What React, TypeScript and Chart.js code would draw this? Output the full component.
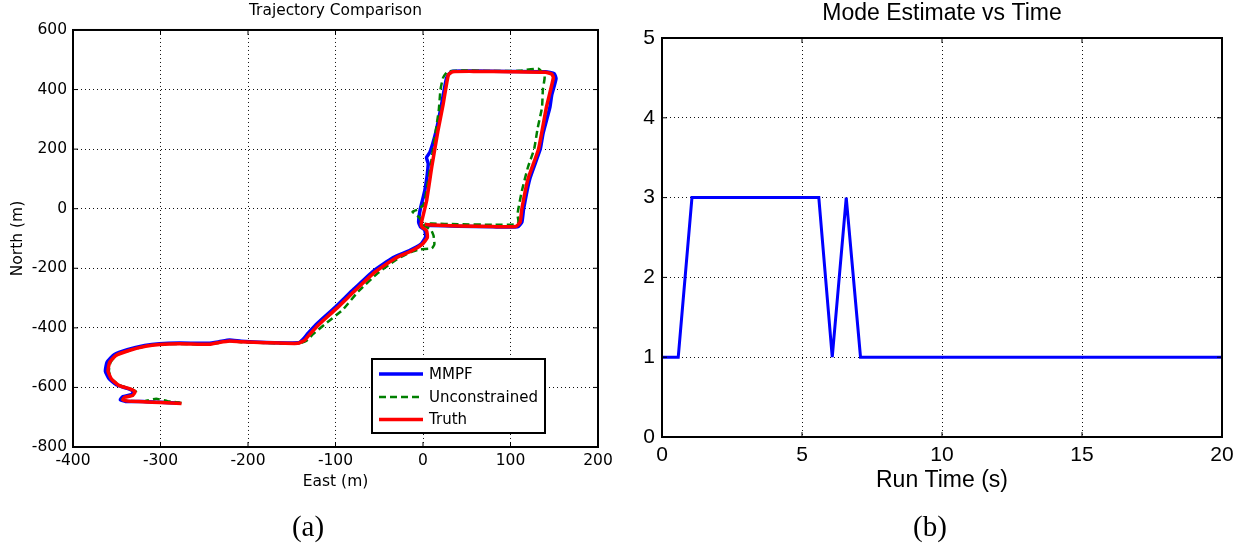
import React, { useEffect, useRef } from "react";
import { Chart, registerables } from "chart.js";

Chart.register(...registerables);
Chart.defaults.color = "#000";

// ---------- Data: trajectory comparison (East / North in metres) ----------
const trajEastTicks = [-400, -300, -200, -100, 0, 100, 200];
const trajNorthTicks = [-800, -600, -400, -200, 0, 200, 400, 600];

const truthEast = [-276, -300, -320, -337, -343, -341, -332, -329, -335, -347, -356, -360, -358, -351, -336, -317, -301, -278, -244, -233, -221, -208, -179, -143, -135, -129, -118, -98, -77, -55, -32, -14, -1, 5, 4, -1, -2, 4, 10, 17, 23, 29, 34, 60, 100, 140, 147, 149, 141, 132, 120, 113, 111, 106, 80, 40, 10, 2];
const truthNorth = [-654, -651, -648, -646, -642, -633, -627, -615, -605, -594, -572, -545, -515, -493, -476, -462, -456, -453, -455, -449, -444, -447, -450, -452, -441, -420, -386, -333, -273, -213, -167, -143, -120, -97, -73, -62, -50, 25, 140, 260, 350, 450, 460, 461, 460, 458, 452, 440, 340, 200, 100, 0, -45, -60, -60, -58, -55, -53];

const mmpfEast = [-278, -300, -320, -340, -346, -343, -333, -331, -338, -350, -359, -363, -361, -353, -338, -318, -301, -278, -245, -233, -221, -208, -179, -142, -137, -131, -120, -100, -79, -57, -34, -16, -2, 3, 2, -3, -5, -3, 2, 6, 4, 8, 15, 21, 27, 33, 60, 100, 140, 150, 152, 147, 145, 137, 134, 122, 115, 113, 108, 80, 40, 10, 2];
const mmpfNorth = [-652, -650, -647, -647, -641, -631, -624, -613, -603, -592, -570, -545, -515, -490, -473, -459, -453, -451, -452, -447, -441, -445, -449, -450, -438, -417, -383, -330, -270, -210, -164, -141, -118, -95, -72, -60, -45, 0, 60, 150, 172, 190, 260, 346, 440, 461, 462, 461, 460, 453, 436, 380, 340, 250, 200, 100, 0, -45, -61, -61, -59, -56, -54];

const uncEast = [-276, -292, -305, -318, -338, -344, -340, -330, -328, -335, -347, -356, -359, -357, -350, -335, -316, -300, -277, -244, -233, -221, -208, -179, -143, -133, -126, -113, -92, -74, -52, -30, -14, -3, 10, 13, 12, 9, 3, 0, -4, -12, -6, 1, 5, 9, 14, 18, 20, 23, 28, 45, 80, 110, 132, 139, 137, 136, 131, 127, 120, 113, 109, 108, 109, 104, 80, 40, 10, 2];
const uncNorth = [-652, -646, -638, -646, -645, -640, -631, -626, -614, -604, -593, -571, -545, -515, -492, -475, -461, -455, -454, -456, -450, -445, -448, -451, -453, -443, -422, -390, -340, -278, -217, -170, -146, -136, -133, -120, -90, -70, -60, -52, -30, -10, -3, 15, 80, 150, 250, 330, 400, 440, 460, 464, 462, 463, 470, 445, 400, 340, 270, 200, 140, 60, 0, -20, -45, -53, -54, -52, -50, -50];

// ---------- Data: mode estimate vs time ----------
const modeTimeTicks = [0, 5, 10, 15, 20];
const modeValueTicks = [0, 1, 2, 3, 4, 5];
const modeTime = [0, 0.58, 1.07, 5.6, 6.08, 6.58, 7.09, 20];
const modeValue = [1, 1, 3, 3, 1, 3, 1, 1];

const toPoints = (xs: number[], ys: number[]) => xs.map((x, i) => ({ x, y: ys[i] }));

// MATLAB-style frame (box + inward ticks) and optional in-plot legend
const matlabFrame = {
  id: "matlabFrame",
  afterDraw(chart: any, _args: any, opts: any) {
    const { ctx, chartArea: a, scales } = chart;
    ctx.save();
    ctx.strokeStyle = "#000";
    ctx.lineWidth = 1;
    const tl = 5;
    ctx.beginPath();
    scales.x.ticks.forEach((t: any) => {
      const px = scales.x.getPixelForValue(t.value);
      ctx.moveTo(px, a.bottom);
      ctx.lineTo(px, a.bottom - tl);
      ctx.moveTo(px, a.top);
      ctx.lineTo(px, a.top + tl);
    });
    scales.y.ticks.forEach((t: any) => {
      const py = scales.y.getPixelForValue(t.value);
      ctx.moveTo(a.left, py);
      ctx.lineTo(a.left + tl, py);
      ctx.moveTo(a.right, py);
      ctx.lineTo(a.right - tl, py);
    });
    ctx.stroke();
    ctx.lineWidth = 2;
    ctx.strokeRect(a.left, a.top, a.right - a.left, a.bottom - a.top);

    if (opts && opts.legend) {
      const bx = a.right - 226;
      const by = a.bottom - 88;
      const bw = 173;
      const bh = 74;
      ctx.fillStyle = "#fff";
      ctx.fillRect(bx, by, bw, bh);
      ctx.lineWidth = 2;
      ctx.strokeStyle = "#000";
      ctx.strokeRect(bx, by, bw, bh);
      const rows = [15, 38, 60.5];
      chart.data.datasets.forEach((ds: any, i: number) => {
        const y = by + rows[i];
        ctx.beginPath();
        ctx.strokeStyle = ds.borderColor;
        ctx.lineWidth = ds.borderWidth;
        ctx.setLineDash(ds.borderDash || []);
        ctx.moveTo(bx + 7, y);
        ctx.lineTo(bx + 51, y);
        ctx.stroke();
        ctx.setLineDash([]);
        ctx.fillStyle = "#000";
        ctx.font = "15px 'DejaVu Sans'";
        ctx.textBaseline = "middle";
        ctx.textAlign = "left";
        ctx.fillText(ds.label, bx + 57, y + 1);
      });
    }
    ctx.restore();
  },
};

const fixWidth = (w: number) => (scale: any) => {
  scale.width = w;
  scale.paddingTop = 0;
  scale.paddingBottom = 0;
  scale.paddingLeft = 0;
  scale.paddingRight = 0;
};
const fixHeight = (h: number) => (scale: any) => {
  scale.height = h;
  scale.paddingLeft = 0;
  scale.paddingRight = 0;
  scale.paddingTop = 0;
  scale.paddingBottom = 0;
};

const gridOpts = { color: "#111", lineWidth: 1, drawTicks: false };
const borderOpts = { display: false, dash: [1, 3] };

function TrajectoryChart() {
  const ref = useRef<HTMLCanvasElement | null>(null);
  useEffect(() => {
    if (!ref.current) return;
    const lf = "'DejaVu Sans'";
    const chart = new Chart(ref.current, {
      type: "scatter",
      data: {
        datasets: [
          {
            label: "MMPF",
            data: toPoints(mmpfEast, mmpfNorth),
            showLine: true,
            borderColor: "#0000ff",
            borderWidth: 3.5,
            pointRadius: 0,
            tension: 0.15,
            order: 3,
          },
          {
            label: "Unconstrained",
            data: toPoints(uncEast, uncNorth),
            showLine: true,
            borderColor: "#008000",
            borderWidth: 2.5,
            borderDash: [7, 4],
            pointRadius: 0,
            tension: 0.15,
            order: 2,
          },
          {
            label: "Truth",
            data: toPoints(truthEast, truthNorth),
            showLine: true,
            borderColor: "#ff0000",
            borderWidth: 3.5,
            pointRadius: 0,
            tension: 0.15,
            order: 1,
          },
        ],
      } as any,
      options: {
        animation: false,
        responsive: false,
        devicePixelRatio: 1,
        layout: { padding: { left: 0, top: 0, right: 22, bottom: 54.4 } },
        plugins: {
          legend: { display: false },
          tooltip: { enabled: false },
          title: {
            display: true,
            text: "Trajectory Comparison",
            fullSize: false,
            font: { family: lf, size: 15.4, weight: "normal" },
            padding: { top: 1.6, bottom: 9.9 },
            color: "#000",
          },
          matlabFrame: { legend: true },
        } as any,
        scales: {
          x: {
            type: "linear",
            min: trajEastTicks[0],
            max: trajEastTicks[trajEastTicks.length - 1],
            ticks: { stepSize: trajEastTicks[1] - trajEastTicks[0], font: { family: lf, size: 15.5 }, padding: 5, color: "#000" },
            grid: gridOpts,
            border: borderOpts,
            title: { display: true, text: "East (m)", font: { family: lf, size: 15.5 }, padding: { top: 0, bottom: 0 }, color: "#000" },
            afterFit: fixHeight(44.6),
          },
          y: {
            type: "linear",
            min: trajNorthTicks[0],
            max: trajNorthTicks[trajNorthTicks.length - 1],
            ticks: { stepSize: trajNorthTicks[1] - trajNorthTicks[0], font: { family: lf, size: 15.5 }, padding: 6, color: "#000" },
            grid: gridOpts,
            border: borderOpts,
            title: { display: true, text: "North (m)", font: { family: lf, size: 15.5 }, padding: { top: 9, bottom: 0 }, color: "#000" },
            afterFit: fixWidth(73),
          },
        },
      } as any,
      plugins: [matlabFrame],
    });
    return () => chart.destroy();
  }, []);
  return <canvas ref={ref} width={620} height={546} style={{ position: "absolute", left: 0, top: 0 }} />;
}

function ModeChart() {
  const ref = useRef<HTMLCanvasElement | null>(null);
  useEffect(() => {
    if (!ref.current) return;
    const rf = "'Liberation Sans', Arial";
    const chart = new Chart(ref.current, {
      type: "scatter",
      data: {
        datasets: [
          {
            label: "Mode",
            data: toPoints(modeTime, modeValue),
            showLine: true,
            borderColor: "#0000ff",
            borderWidth: 3,
            pointRadius: 0,
            tension: 0,
          },
        ],
      } as any,
      options: {
        animation: false,
        responsive: false,
        devicePixelRatio: 1,
        layout: { padding: { left: 0, top: 0, right: 23, bottom: 51.4 } },
        plugins: {
          legend: { display: false },
          tooltip: { enabled: false },
          title: {
            display: true,
            text: "Mode Estimate vs Time",
            fullSize: false,
            font: { family: rf, size: 23, weight: "normal" },
            padding: { top: 0, bottom: 10.4 },
            color: "#000",
          },
          matlabFrame: { legend: false },
        } as any,
        scales: {
          x: {
            type: "linear",
            min: modeTimeTicks[0],
            max: modeTimeTicks[modeTimeTicks.length - 1],
            ticks: { stepSize: modeTimeTicks[1] - modeTimeTicks[0], font: { family: rf, size: 21 }, padding: 5.4, color: "#000" },
            grid: gridOpts,
            border: borderOpts,
            title: { display: true, text: "Run Time (s)", font: { family: rf, size: 23 }, padding: { top: 0, bottom: 0 }, color: "#000" },
            afterFit: fixHeight(57.6),
          },
          y: {
            type: "linear",
            min: modeValueTicks[0],
            max: modeValueTicks[modeValueTicks.length - 1],
            ticks: { stepSize: modeValueTicks[1] - modeValueTicks[0], font: { family: rf, size: 21 }, padding: 7, color: "#000" },
            grid: gridOpts,
            border: borderOpts,
            afterFit: fixWidth(42),
          },
        },
      } as any,
      plugins: [matlabFrame],
    });
    return () => chart.destroy();
  }, []);
  return <canvas ref={ref} width={625} height={546} style={{ position: "absolute", left: 620, top: 0 }} />;
}

const captionStyle = (cx: number): React.CSSProperties => ({
  position: "absolute",
  left: cx - 50,
  width: 100,
  top: 509,
  height: 34,
  lineHeight: "34px",
  textAlign: "center",
  fontFamily: "'Liberation Serif', serif",
  fontSize: 29,
  color: "#000",
});

export default function App() {
  return (
    <div style={{ position: "absolute", left: 0, top: 0, width: 1245, height: 546, background: "#fff", overflow: "hidden" }}>
      <TrajectoryChart />
      <ModeChart />
      <div style={captionStyle(308)}>(a)</div>
      <div style={captionStyle(930)}>(b)</div>
    </div>
  );
}
